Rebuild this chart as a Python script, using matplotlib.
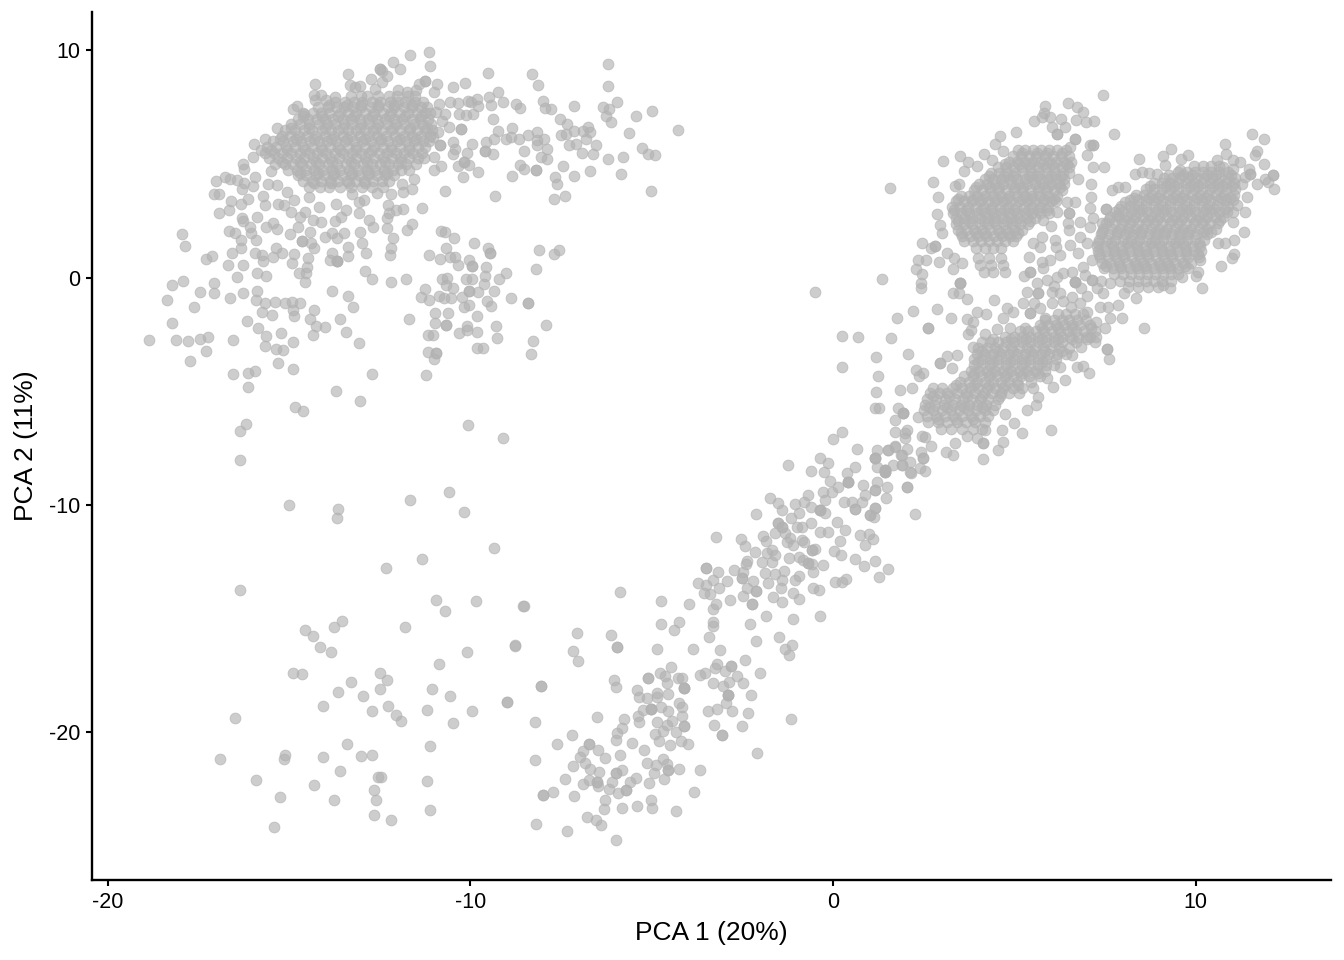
import matplotlib
matplotlib.use("Agg")
import matplotlib.pyplot as plt
import numpy as np

# values, PCA 1 / PCA 2
lower_left = [(-15.0,-10.0),(-13.65,-10.2),(-13.68,-10.6),(-11.66,-9.8),(-10.6,-9.45),(-10.17,-10.3),(-9.35,-11.9),(-11.33,-12.4),
(-12.32,-12.8),(-16.35,-13.75),(-10.95,-14.2),(-10.7,-14.7),(-9.84,-14.25),(-8.55,-14.45),(-13.55,-15.1),(-13.75,-15.4),(-14.55,-15.5),
(-14.35,-15.8),(-14.15,-16.25),(-13.85,-16.5),(-11.8,-15.4),(-10.1,-16.5),(-8.77,-16.2),(-10.87,-17.0),(-14.9,-17.4),(-14.65,-17.45),
(-12.5,-17.4),(-12.3,-17.7),(-13.3,-17.8),(-12.5,-18.1),(-11.05,-18.1),(-13.65,-18.25),(-12.95,-18.4),(-10.55,-18.4),(-14.05,-18.85),
(-12.7,-19.1),(-12.27,-18.85),(-12.05,-19.25),(-11.9,-19.5),(-11.2,-19.05),(-9.95,-19.1),(-10.48,-19.6),(-9.0,-18.7),(-8.05,-18.0),
(-16.5,-19.4),(-16.9,-21.2),(-15.1,-21.0),(-15.15,-21.2),(-14.05,-21.1),(-13.4,-20.55),(-13.0,-21.05),(-12.7,-21.0),(-11.1,-20.6),
(-15.9,-22.1),(-14.3,-22.35),(-13.6,-21.7),(-12.55,-22.0),(-12.45,-22.0),(-11.2,-22.15),(-12.65,-22.55),(-15.25,-22.85),(-13.75,-23.0),
(-12.6,-23.0),(-12.65,-23.65),(-11.1,-23.45),(-12.2,-23.9),(-15.4,-24.2),
(-16.18,-6.45),(-16.35,-6.75),(-16.35,-8.03),(-10.06,-6.5),(-9.1,-7.07)]

lower_band = [(-8.2,-24.07),(-7.34,-24.35),(-5.99,-24.76),(-6.77,-23.74),(-6.53,-23.88),(-6.4,-24.1),(-8.0,-22.79),(-8.0,-22.79),(-7.73,-22.66),
(-7.15,-22.82),(-8.22,-21.23),(-7.62,-20.55),(-7.2,-20.12),(-8.22,-19.58),(-7.38,-22.09),(-6.9,-22.29),(-7.18,-21.5),(-6.97,-21.12),(-6.9,-20.82),
(-6.74,-20.53),(-6.74,-20.53),(-6.49,-20.79),(-6.29,-21.13),(-6.84,-21.35),(-6.7,-21.63),(-6.44,-21.78),(-6.72,-22.12),(-6.51,-22.19),(-6.51,-22.19),
(-6.49,-22.38),(-6.17,-22.53),(-6.08,-22.19),(-5.99,-21.82),(-5.99,-21.82),(-5.81,-21.67),(-5.86,-21.01),(-5.92,-22.7),(-5.72,-22.58),(-5.72,-22.58),
(-5.61,-22.19),(-5.43,-22.03),(-6.29,-23.02),(-6.31,-23.41),(-5.81,-23.36),(-5.4,-23.27),(-5.03,-23.02),(-4.99,-23.35),(-4.32,-23.49),(-5.08,-22.23),
(-4.93,-21.82),(-5.14,-21.38),(-5.21,-20.79),(-4.88,-21.47),(-4.68,-21.2),(-4.58,-21.43),(-4.54,-21.67),(-4.54,-21.67),(-4.65,-22.09),(-4.25,-21.62),
(-3.68,-21.67),(-3.84,-22.64),(-5.53,-20.47),(-5.98,-20.37),(-5.96,-20.03),(-5.83,-19.81),(-5.77,-19.42),(-6.51,-19.33),(-5.35,-19.56),(-5.37,-19.28),
(-5.23,-19.03),(-5.03,-18.98),(-5.03,-18.98),(-5.03,-18.98),(-5.36,-18.48),(-5.4,-18.15),(-5.14,-18.53),(-4.86,-18.3),(-4.84,-18.48),(-4.56,-18.34),
(-4.86,-19.55),(-4.74,-18.92),(-4.54,-19.06),(-4.45,-19.5),(-4.57,-19.69),(-4.7,-19.94),(-4.34,-20.02),(-4.91,-20.1),(-4.81,-20.38),(-4.49,-20.56),
(-4.19,-20.41),(-3.99,-20.54),(-4.11,-19.74),(-4.11,-19.74),(-4.17,-19.28),(-4.17,-18.89),(-4.25,-18.74),(-5.09,-17.64),(-5.09,-17.64),(-4.77,-17.39),
(-4.63,-17.52),(-4.46,-17.16),(-4.59,-17.86),(-4.28,-17.63),(-4.16,-17.64),(-4.11,-18.08),(-4.11,-18.08),(-4.11,-18.08),(-6.05,-17.7),(-5.98,-18.02),
(-8.04,-17.99),(-9.0,-18.67),(-7.16,-16.44),(-7.04,-16.89),(-7.06,-15.64),(-6.11,-15.75),(-5.96,-16.25),(-5.96,-16.25),(-8.77,-16.17),(-8.53,-14.46),
(-5.86,-13.84),(-4.85,-16.33),(-3.87,-16.35),(-3.11,-16.38),(-4.73,-14.25),(-4.73,-15.25),(-4.39,-15.53),(-4.24,-15.15),(-3.96,-14.35),(-3.42,-15.81),
(-3.3,-15.32),(-3.3,-15.15),(-3.3,-14.59),(-3.23,-14.37),(-3.57,-13.9),(-3.39,-13.93),(-3.71,-13.46),(-3.51,-13.53),(-3.5,-12.78),(-3.5,-12.78),
(-3.17,-12.95),(-3.3,-13.31),(-3.13,-13.65),(-2.91,-13.37),(-3.22,-11.42),(-2.83,-14.19),(-2.74,-12.89),(-2.55,-11.51),(-2.42,-11.82),(-2.12,-10.41),
(-1.24,-8.24),(-2.29,-15.23),(-2.13,-15.98),(-2.44,-16.83),(-2.82,-17.08),(-2.82,-17.08),(-3.19,-17.02),(-3.25,-17.17),(-3.53,-17.42),(-3.67,-17.51),
(-2.98,-17.33),(-2.65,-17.52),(-2.88,-17.82),(-2.49,-17.85),(-3.32,-17.85),(-3.04,-17.99),(-2.01,-17.39),(-2.89,-18.37),(-2.89,-18.37),(-2.89,-18.37),
(-2.27,-18.37),(-2.95,-18.74),(-3.46,-19.08),(-3.2,-18.98),(-2.78,-19.06),(-2.34,-19.17),(-2.52,-19.72),(-3.29,-19.71),(-3.06,-20.12),(-3.06,-20.12),
(-1.15,-19.42),(-2.09,-20.93),(-1.49,-15.84),(-1.14,-16.19),(-1.33,-16.36),(-1.22,-16.6)]

middle_band = [(-1.84,-14.9),(-1.09,-15.04),(-0.37,-14.9),(-2.22,-14.35),(-2.22,-14.35),(-2.48,-14.0),(-2.12,-13.78),(-2.12,-13.78),(-2.38,-13.68),
(-2.52,-13.24),(-2.52,-13.24),(-2.48,-12.95),(-2.41,-12.61),(-2.36,-12.46),(-2.21,-13.36),(-1.87,-13.02),(-1.79,-13.46),(-1.66,-14.08),(-1.4,-14.3),
(-1.43,-13.65),(-1.41,-13.31),(-1.35,-12.9),(-1.6,-13.05),(-1.11,-13.88),(-0.93,-14.16),(-1.05,-13.31),(-0.94,-13.14),(-0.56,-13.68),(-0.38,-13.77),
(0.06,-13.39),(0.24,-13.41),(0.35,-13.27),(-0.54,-12.95),(-0.68,-12.58),(-0.68,-12.58),(-0.57,-12.61),(-0.28,-12.64),(0.62,-12.4),(0.85,-12.71),
(1.15,-12.48),(1.28,-13.19),(1.52,-12.84),(0.21,-12.23),(0.04,-12.02),(0.19,-11.6),(0.32,-11.13),(-0.59,-12.01),(-0.59,-12.01),(-0.49,-11.93),
(0.75,-11.32),(0.98,-11.29),(1.11,-11.52),(0.87,-11.76),(-1.83,-12.14),(-1.69,-11.99),(-1.6,-12.21),(-1.69,-12.5),(-1.97,-12.5),(-2.15,-12.07),
(-1.92,-11.38),(-1.85,-11.58),(-1.6,-11.26),(-1.74,-9.7),(-1.51,-9.94),(-1.41,-10.23),(-1.51,-10.82),(-1.51,-10.82),(-1.41,-10.99),(-1.41,-10.99),
(-1.32,-11.26),(-1.16,-10.6),(-1.28,-11.62),(-1.09,-11.77),(-1.18,-11.48),(-0.86,-11.55),(-0.86,-10.99),(-1.0,-10.99),(-1.2,-12.36),(-0.95,-12.29),
(-0.83,-12.45),(-0.81,-11.65),(-1.06,-9.97),(-0.93,-10.38),(-0.8,-9.86),(-0.69,-9.59),(-0.61,-8.53),(-0.61,-10.08),(-0.61,-10.82),(-0.36,-7.93),
(-0.25,-8.56),(-0.13,-8.18),(-0.08,-8.95),(-0.36,-10.23),(-0.36,-10.23),(-0.36,-10.23),(-0.22,-10.38),(-0.28,-9.42),(-0.02,-9.44),(-0.22,-9.79),
(-0.36,-11.18),(-0.13,-11.18),(0.1,-10.74),(0.15,-9.2),(0.29,-9.86),(0.42,-8.98),(0.42,-8.98),(0.42,-8.98),(0.38,-8.62),(0.61,-8.32),(0.67,-7.53),
(0.01,-7.11),(0.24,-6.78),(0.52,-9.86),(0.61,-10.2),(0.61,-10.2),(0.79,-9.86),(0.89,-9.57),(0.84,-9.13),(1.16,-9.35),(1.16,-9.35),(1.21,-8.98),
(1.48,-9.2),(1.46,-9.69),(1.16,-10.16),(1.16,-10.16),(1.02,-10.45),(1.02,-10.45),(1.13,-10.55),(1.16,-7.96),(1.16,-7.96),(1.21,-8.32),(1.44,-8.54),
(1.44,-8.54),(1.44,-8.54),(1.53,-7.59),(1.71,-7.41),(1.9,-7.81),(1.9,-8.25),(2.03,-9.2),(2.03,-9.2),(2.26,-10.41),(2.12,-8.54),(1.99,-6.86),
(-0.5,-0.65),(0.25,-2.57),(0.69,-2.6),(0.25,-3.94),(1.16,-5.74),(1.19,-5.04)]

upper_left_fringe = [(-18.87,-2.75),(-18.11,-2.75),(-17.77,-2.81),(-17.46,-2.71),(-17.24,-2.62),(-17.3,-3.22),(-17.73,-3.66),(-18.22,-2.01),(-17.61,-1.29),
(-18.35,-0.98),(-18.23,-0.33),(-17.91,-0.17),(-17.45,-0.64),(-17.07,-0.67),(-17.08,-0.26),(-17.94,1.93),(-17.86,1.4),(-17.3,0.83),(-17.12,0.97),
(-16.53,-2.77),(-16.17,-1.93),(-16.54,-4.24),(-16.13,-4.18),(-15.93,-4.12),(-16.13,-4.81),(-14.82,-5.69),(-14.6,-5.86),(-13.7,-4.98),(-13.05,-5.44),
(-12.72,-4.24),(-11.23,-4.27),(-15.3,-3.75),(-14.89,-4.02),(-15.66,-3.02),(-15.36,-3.14),(-15.17,-3.17),(-14.89,-2.84),(-15.62,-2.56),(-15.21,-2.45),
(-15.85,-2.23),(-16.63,-0.89),(-16.27,-0.7),(-15.91,-1.0),(-15.88,-0.57),(-15.65,-1.14),(-15.39,-1.08),(-15.12,-1.14),(-14.92,-1.07),(-14.69,-1.14),
(-14.9,-1.43),(-14.85,-1.7),(-15.73,-1.51),(-15.46,-1.67),(-14.32,-1.45),(-14.43,-1.83),(-14.25,-2.14),(-14.01,-2.17),(-14.33,-2.53),(-13.58,-1.83),
(-13.42,-2.4),(-13.08,-2.87),(-13.23,-1.29),(-13.36,-0.79),(-13.82,-0.58),(-11.69,-1.83),(-12.9,0.28),(-12.71,-0.05),(-12.19,-0.19),(-11.77,-0.05),
(-16.43,0.03),(-15.87,0.22),(-15.62,0.06),(-16.67,0.55),(-16.27,0.56),(-16.57,1.06),(-16.33,1.28),(-15.93,1.09),(-15.74,0.99),(-15.72,0.74),(-15.43,0.91),
(-15.36,1.32),(-15.19,1.06),(-14.92,0.66),(-14.85,1.02),(-14.48,0.84),(-14.5,0.47),(-14.54,0.18),(-14.73,0.21),(-14.55,-0.19),(-14.31,1.28),(-14.64,1.6),
(-14.64,1.6),(-14.38,1.5),(-14.41,2.01),(-14.98,1.91),(-15.34,2.12),(-15.64,2.23),(-15.44,2.38),(-15.9,1.65),(-16.33,1.65),(-16.5,1.94),(-16.65,2.07),
(-16.04,1.94),(-16.08,2.23),(-16.28,2.5),(-16.3,2.6),(-15.89,2.67),(-16.94,2.84),(-16.65,2.97),(-16.59,3.36),(-16.33,3.26),(-16.13,3.48),(-15.66,3.2),
(-15.71,3.58),(-15.3,3.26),(-15.15,3.19),(-17.06,3.7),(-16.92,3.67),(-17.01,4.23),(-16.77,4.42),(-16.63,4.33),(-16.42,4.29),(-16.3,3.92),(-16.23,4.17),
(-16.28,5.02),(-16.23,4.8),(-15.98,5.31),(-15.93,4.43),(-15.98,4.02),(-15.59,4.14),(-15.49,4.7),(-15.34,4.07),(-15.05,3.77),(-14.85,3.41),(-14.94,2.89),
(-14.7,2.67),(-14.56,2.89),(-14.35,2.53),(-14.11,2.45),(-14.75,2.23),(-14.01,1.79),(-13.82,1.94),(-13.67,1.72),(-13.48,1.98),(-13.36,1.35),(-12.98,1.5),
(-13.03,2.01),(-13.82,1.09),(-12.88,1.06),(-13.88,0.77),(-13.67,0.74),(-13.67,0.74),(-13.67,0.74),(-13.37,0.94),(-12.21,0.99),(-12.19,1.28),(-12.14,1.76),
(-12.31,2.16),(-12.31,2.6),(-12.24,2.82),(-12.27,3.19),(-12.04,2.97),(-11.85,3.01),(-11.32,3.08),(-11.74,2.09),(-11.62,2.35),(-12.68,2.23),(-12.78,2.53),
(-13.08,2.85),(-13.42,2.97),(-13.57,2.67),(-13.74,2.5),(-13.71,3.26),(-13.08,3.33),(-12.93,3.41),(-13.27,3.7),(-14.16,3.11),(-14.45,3.55),(-11.55,4.36),
(-11.89,4.1),(-11.85,3.77),(-11.62,3.92),(-10.71,3.79),(-9.33,3.6),(-12.19,3.7),(-12.57,3.73),(-15.76,5.6),(-15.65,6.1),(-15.97,5.9),(-15.33,6.6),(-14.9,7.4),
(-14.79,7.55),(-14.58,7.2)]

upper_arc = [(-14.28,8.54),(-13.36,8.98),(-12.14,9.5),(-11.65,9.78),(-11.14,9.91),(-11.1,9.32),(-11.94,9.16),(-12.49,9.2),(-12.49,9.2),(-12.44,9.1),(-12.29,8.87),
(-12.74,8.76),(-12.44,8.62),(-13.33,8.47),(-13.18,8.4),(-13.03,8.44),(-12.63,8.32),(-9.52,9.0),(-10.15,8.57),(-10.47,8.4),(-11.26,8.65),(-11.26,8.65),(-10.93,8.54),
(-11.41,8.54),(-11.01,8.18),(-11.5,8.25),(-11.75,8.18),(-12.0,8.25),(-14.31,8.03),(-14.11,8.03),(-14.28,7.81),(-13.97,7.81),(-13.72,7.96),(-8.29,8.95),(-8.14,8.47),
(-6.2,9.39),(-6.21,8.42),(-9.24,8.18),(-9.48,7.96),(-9.82,7.88),(-10.07,7.78),(-10.34,7.69),(-10.56,7.74),(-9.11,7.71),(-9.44,7.59),(-9.78,7.54),(-9.97,7.74),
(-8.74,7.62),(-8.64,7.47),(-8.0,7.79),(-7.94,7.46),(-7.78,7.43),(-7.15,7.54),(-6.35,7.53),(-6.18,7.44),(-5.96,7.71),(-6.27,7.12),(-6.12,6.86),(-5.44,7.1),(-4.98,7.31),
(-4.28,6.49),(-5.63,6.37),(-7.52,6.96),(-7.34,6.74),(-7.15,6.46),(-7.49,6.28),(-7.37,6.31),(-6.9,6.46),(-6.76,6.64),(-6.69,6.42),(-6.8,6.12),(-7.27,5.84),(-7.09,5.87),
(-6.54,5.83),(-6.91,5.49),(-6.63,5.46),(-6.19,5.23),(-5.79,5.29),(-5.27,5.71),(-5.1,5.46),(-4.9,5.4),(-5.84,4.57),(-6.7,4.68),(-7.15,4.49),(-7.44,4.92),(-7.67,4.41),
(-7.62,4.14),(-7.68,3.48),(-7.39,3.57),(-5.02,3.82),(-8.17,6.05),(-8.15,6.42),(-7.96,6.11),(-8.4,6.27),(-8.67,6.09),(-8.84,6.58),(-8.87,6.17),(-9.02,6.08),(-9.24,6.46),
(-9.36,6.12),(-9.58,5.97),(-9.38,7.0),(-8.15,5.83),(-7.88,5.64),(-8.05,5.31),(-7.89,5.21),(-8.53,5.58),(-9.38,5.46),(-9.6,5.58),(-9.6,5.58),(-8.64,4.96),(-8.51,4.79),
(-8.2,4.73),(-8.2,4.73),(-8.85,4.48),(-9.95,5.9),(-10.08,5.49),(-10.27,6.53),(-10.27,6.53),(-10.59,6.64),(-10.84,5.83),(-10.84,5.83),(-10.47,5.98),(-10.42,5.68),(-10.47,5.46),
(-10.34,4.92),(-10.18,5.09),(-10.18,5.09),(-10.03,4.95),(-10.2,4.43),(-9.8,4.63),(-10.81,4.92),(-11.01,4.73),(-10.71,7.22),(-10.32,7.19),(-10.12,7.15),(-9.93,7.19),
(-10.86,7.66),(-10.94,7.3),(-10.78,6.9),(-10.88,6.4),(-11.04,6.2),(-10.99,5.3)]

center_group = [(-10.81,2.03),(-10.71,2.0),(-10.45,1.74),(-9.9,1.53),(-9.51,1.32),(-9.46,1.09),(-9.46,1.09),(-10.68,1.3),(-11.13,1.0),(-10.83,0.83),(-10.56,0.91),(-10.42,0.91),
(-10.35,0.55),(-10.03,0.77),(-9.95,0.5),(-9.95,0.5),(-9.58,0.47),(-9.6,0.06),(-9.61,-0.29),(-9.01,0.19),(-9.21,-0.08),(-9.35,-0.58),(-10.12,-0.07),(-9.95,-0.07),(-10.77,-0.08),
(-10.65,-0.04),(-10.67,-0.33),(-10.47,-0.45),(-10.03,-0.58),(-10.03,-0.58),(-11.24,-0.52),(-11.35,-0.86),(-11.13,-0.99),(-10.86,-0.82),(-10.73,-0.92),(-10.52,-0.88),(-10.22,-0.85),
(-9.78,-0.63),(-9.55,-1.05),(-9.44,-1.26),(-8.88,-0.91),(-8.42,-1.14),(-8.42,-1.14),(-10.03,-1.21),(-10.18,-1.29),(-10.98,-1.57),(-10.62,-1.55),(-9.82,-1.7),(-10.98,-1.98),(-10.67,-2.09),
(-10.67,-2.09),(-10.08,-2.14),(-10.08,-2.31),(-10.32,-2.42),(-9.82,-2.39),(-9.29,-2.15),(-9.27,-2.67),(-9.81,-3.09),(-9.65,-3.09),(-11.16,-2.52),(-11.02,-2.55),(-11.16,-3.27),(-10.94,-3.31),
(-10.94,-3.31),(-11.01,-3.6),(-8.26,-2.8),(-8.33,-3.36),(-7.92,-2.09),(-8.2,0.36),(-8.11,1.22),(-7.68,1.03),(-7.56,1.21)]

right_fringe = [(7.44,8.04),(6.48,7.69),(5.85,7.56),(5.82,7.25),(6.74,7.49),(6.9,7.3),(5.54,6.9),(5.75,7.05),(5.98,7.05),(6.28,7.0),(6.69,6.93),(6.98,6.86),(7.2,6.9),(7.76,6.3),(6.03,6.61),
(6.4,6.64),(5.04,6.4),(4.6,6.21),(4.47,5.87),(4.7,5.59),(4.16,5.43),(4.39,5.17),(3.5,5.37),(3.03,5.15),(3.73,5.08),(3.96,4.9),(3.61,4.7),(1.58,3.94),(2.76,4.22),(2.89,3.53),(2.87,2.79),
(3.36,4.04),(3.46,4.14),(2.95,2.32),(3.01,1.94),(2.44,1.5),(2.81,1.4),(2.81,1.4),(2.69,1.28),(3.15,1.1),(2.93,0.69),(2.56,0.77),(2.33,0.77),(2.28,0.37),(2.44,0.15),(2.43,-0.26),(2.43,-0.48),
(1.36,-0.07),(3.32,0.37),(3.55,0.62),(3.34,0.84),(3.32,-0.67),(3.5,-0.26),(3.5,-0.26),(3.5,-0.26),(3.48,-0.7),(3.7,-0.96),(4.44,-0.99),(2.86,-1.39),(2.21,-1.48),(1.77,-1.77),(3.24,-1.79),
(3.69,-1.83),(3.96,-1.51),(4.23,-1.59),(3.87,-1.95),(2.61,-2.24),(2.61,-2.24),(3.8,-2.31),(3.73,-2.49),(1.59,-2.68),(2.07,-3.35),(1.19,-3.5),(1.25,-4.34),(2.95,-3.74),(2.95,-3.74),(3.15,-3.46),
(3.41,-3.41),(3.29,-4.0),(2.28,-4.05),(2.49,-4.22),(2.38,-4.34),(1.84,-4.93),(2.19,-4.88),(1.26,-5.76),(1.94,-5.98),(1.94,-5.98),(1.94,-5.98),(1.8,-5.76),(2.35,-6.13),(1.71,-6.27),(1.71,-6.79),
(2.03,-6.71),(1.99,-7.08),(2.44,-6.98),(2.54,-7.0),(1.53,-7.6),(1.71,-7.45),(2.03,-7.55),(2.7,-7.42),(2.42,-7.67),(2.49,-7.93),(2.49,-7.93),(1.87,-7.82),(2.12,-8.11),(1.2,-7.6),(1.16,-7.96),
(1.43,-8.48),(1.43,-8.48),(1.43,-8.48),(1.66,-8.26),(1.89,-8.26),(2.4,-8.4),(2.54,-8.5),(2.14,-8.59),(3.12,-7.67),(3.3,-7.82),(3.36,-7.3),(3.69,-6.98),(3.98,-7.08),(4.14,-7.3),(4.14,-7.3),
(4.56,-7.6),(4.7,-7.23),(4.14,-7.98),(4.19,-6.71),(4.65,-6.69),(5.0,-6.42),(5.22,-6.83),(6.01,-6.71),(4.75,-6.01),(5.36,-5.83),(5.59,-5.59),(5.66,-5.25),(5.52,-4.88),(6.06,-4.81),(6.4,-4.51),
(5.89,-4.44),(6.26,-3.93),(6.72,-3.93),(6.9,-3.9),(7.07,-4.22),(6.58,-3.41),(6.85,-3.05),(7.55,-3.16),(7.55,-3.16),(7.62,-3.58),(7.22,-2.83),(7.09,-2.61),(7.5,-2.21),(8.57,-2.21),(7.96,-1.77),
(7.64,-1.8),(7.87,-1.21),(7.36,-1.29),(6.99,-1.51),(7.24,-1.95),(7.59,-1.29),(10.17,-0.44),(8.35,-0.92),(8.02,-0.7),(9.29,-0.48),(9.11,-0.33),(9.61,0.03),(10.01,0.08),(10.07,0.25),(10.12,0.77),
(10.7,0.5),(11.01,0.84),(11.06,1.03),(11.06,1.65),(10.81,1.5),(11.34,2.0),(10.62,1.5),(11.04,2.45),(11.36,2.9),(11.04,2.9),(11.13,3.19),(11.41,3.55),(11.27,4.14),(11.36,4.43),(11.5,4.58),(11.5,4.58),
(11.47,4.8),(11.68,4.14),(11.91,4.36),(12.14,4.5),(12.14,4.5),(12.16,3.92),(12.0,4.22),(11.87,5.02),(11.89,6.09),(11.56,6.34),(11.68,5.58),(11.64,5.39),(10.81,5.9),(10.83,5.43),(10.58,5.17),(11.04,5.17),
(11.22,5.1),(10.76,4.85),(11.04,4.8),(9.8,5.39),(9.59,5.21),(9.31,5.68),(9.09,5.36),(8.44,5.24),(9.15,4.95),(9.57,4.73),(8.33,4.55),(8.51,4.66),(8.72,4.61),(8.92,4.58),(8.05,3.99),(7.87,3.97),
(7.68,3.85),(8.05,3.33),(7.52,3.01),(7.52,3.01),(7.82,2.75),(7.1,4.11),(7.1,3.53),(7.09,3.04),(6.76,4.36),(7.18,4.85),(7.47,4.85),(7.18,5.83),(7.18,5.83),(7.0,5.39),(7.09,5.83),(6.67,6.12),(6.67,6.12),
(6.17,6.34),(6.17,6.34),(6.53,5.76),(6.67,3.33),(6.44,3.33),(6.5,2.82),(6.5,2.82),(6.48,2.38),(6.52,2.09),(6.81,2.45),(7.18,2.6),(7.41,2.38),(7.09,2.23),(6.81,1.79),(6.53,1.43),(6.76,1.06),(6.9,0.47),
(7.0,1.5),(7.13,0.77),(7.13,-0.11),(7.13,-0.11),(6.67,-0.19),(6.67,-0.19),(6.67,-0.19),(6.35,0.18),(6.58,0.25),(6.01,2.28),(6.17,2.9),(5.8,2.53),(5.77,1.79),(5.52,1.5),(5.71,1.35),(5.39,0.91),(6.12,1.65),
(6.15,1.35),(6.26,0.99),(5.75,0.69),(5.98,0.77),(5.8,0.4),(5.43,0.25),(5.43,0.25),(5.27,0.08),(5.62,-0.26),(6.17,0.03),(5.34,-0.63),(5.66,-0.7),(5.66,-0.7),(6.03,-0.63),(6.26,-0.7),(6.58,-0.85),(7.27,-0.48),
(7.45,-0.7),(7.64,-0.26),(6.81,-1.14),(6.03,-1.14),(5.25,-1.14),(5.43,-1.58),(5.43,-1.58),(4.79,-1.36),(4.7,-1.8),(4.97,-1.51),(5.85,-1.76),(4.88,-2.24),(4.51,-2.28),(4.19,-2.49),(3.87,-3.05),
(5.9,-0.1),(6.1,-0.35),(5.55,-1.1),(5.7,-1.35),(6.35,-1.05),(6.55,-1.3),(7.0,-0.8),(6.85,-0.45),(7.4,-0.15),(6.95,0.1)]

# dense cores: one row per PCA 2 level, PCA 1 positions along it
upper_left_core = [
(8.0,[-13.3,-13.02,-12.85,-12.55,-12.25,-12.02,-11.72,-11.52]),
(7.75,[-13.72,-13.45,-13.2,-12.98,-12.7,-12.48,-12.22,-11.98,-11.8,-11.52,-11.3]),
(7.5,[-14.2,-13.92,-13.7,-13.48,-13.24,-13.0,-12.75,-12.55,-12.28,-12.1,-11.82,-11.6,-11.36,-11.2]),
(7.25,[-14.6,-14.35,-14.12,-13.9,-13.6,-13.38,-13.15,-12.9,-12.66,-12.42,-12.18,-11.96,-11.72,-11.48,-11.26,-11.1]),
(7.0,[-14.75,-14.48,-14.24,-14.0,-13.78,-13.52,-13.3,-13.05,-12.82,-12.58,-12.34,-12.1,-11.88,-11.62,-11.4,-11.16]),
(6.75,[-14.95,-14.7,-14.46,-14.18,-13.96,-13.72,-13.48,-13.25,-13.0,-12.78,-12.54,-12.3,-12.04,-11.82,-11.56,-11.32,-11.08]),
(6.5,[-15.1,-14.84,-14.58,-14.36,-14.1,-13.85,-13.64,-13.38,-13.15,-12.9,-12.67,-12.43,-12.2,-11.95,-11.7,-11.46,-11.24,-11.06]),
(6.25,[-15.2,-14.96,-14.72,-14.5,-14.25,-14.0,-13.76,-13.5,-13.28,-13.04,-12.8,-12.56,-12.32,-12.08,-11.84,-11.6,-11.36,-11.1]),
(6.0,[-15.45,-15.16,-14.9,-14.66,-14.42,-14.18,-13.95,-13.7,-13.46,-13.22,-12.98,-12.74,-12.5,-12.28,-12.02,-11.78,-11.55,-11.3,-11.15]),
(5.75,[-15.6,-15.35,-15.08,-14.84,-14.6,-14.36,-14.12,-13.88,-13.64,-13.38,-13.14,-12.9,-12.66,-12.42,-12.18,-11.95,-11.68,-11.45,-11.25]),
(5.5,[-15.65,-15.42,-15.18,-14.94,-14.7,-14.46,-14.22,-13.98,-13.74,-13.5,-13.26,-13.02,-12.78,-12.52,-12.3,-12.04,-11.82,-11.58,-11.34]),
(5.25,[-15.55,-15.3,-15.05,-14.8,-14.58,-14.34,-14.1,-13.86,-13.62,-13.38,-13.14,-12.9,-12.66,-12.42,-12.16,-11.94,-11.7,-11.45,-11.27]),
(5.0,[-15.38,-15.12,-14.88,-14.64,-14.4,-14.16,-13.92,-13.68,-13.44,-13.2,-12.96,-12.72,-12.48,-12.24,-12.0,-11.76,-11.5]),
(4.75,[-15.02,-14.78,-14.54,-14.3,-14.06,-13.82,-13.58,-13.34,-13.1,-12.86,-12.62,-12.38,-12.14,-11.9,-11.7]),
(4.5,[-14.75,-14.52,-14.26,-14.02,-13.78,-13.54,-13.3,-13.06,-12.82,-12.58,-12.34,-12.1]),
(4.25,[-14.6,-14.36,-14.12,-13.88,-13.64,-13.4,-13.16,-12.92,-12.68,-12.44,-12.24]),
(4.0,[-14.45,-14.15,-13.9,-13.6,-13.3,-12.98,-12.72,-12.4]),
(7.6,[-13.9,-13.4,-13.0,-12.55,-12.1,-11.6]),
(7.1,[-14.6,-14.1,-13.65,-13.2,-12.7,-12.25,-11.8,-11.35]),
(6.6,[-14.95,-14.45,-14.0,-13.5,-13.05,-12.6,-12.12,-11.65,-11.2]),
(6.1,[-15.25,-14.8,-14.3,-13.85,-13.4,-12.9,-12.45,-11.95,-11.5]),
(5.6,[-15.5,-15.05,-14.55,-14.1,-13.6,-13.15,-12.7,-12.2,-11.7]),
(5.1,[-15.2,-14.7,-14.25,-13.8,-13.3,-12.85,-12.35,-11.9]),
(4.6,[-14.7,-14.2,-13.75,-13.25,-12.8,-12.3]),
(4.15,[-14.3,-13.85,-13.35,-12.9]),
]

upper_right_core = [
(5.6,[5.1,5.3,5.52,5.74,5.96,6.18,6.42]),
(5.35,[4.95,5.18,5.4,5.6,5.84,6.06,6.28,6.5]),
(5.1,[4.85,5.08,5.3,5.5,5.72,5.95,6.16,6.38,6.55]),
(4.85,[4.55,4.78,5.0,5.22,5.44,5.66,5.88,6.1,6.32,6.52]),
(4.6,[4.35,4.58,4.8,5.02,5.24,5.46,5.68,5.9,6.12,6.34,6.5]),
(4.35,[4.18,4.4,4.62,4.84,5.06,5.28,5.5,5.72,5.94,6.16,6.38]),
(4.1,[4.02,4.24,4.46,4.68,4.9,5.12,5.34,5.56,5.78,6.0,6.22,6.38]),
(3.85,[3.88,4.1,4.32,4.54,4.76,4.98,5.2,5.42,5.64,5.86,6.08,6.3]),
(3.6,[3.52,3.74,3.96,4.18,4.4,4.62,4.84,5.06,5.28,5.5,5.72,5.94,6.18]),
(3.35,[3.38,3.6,3.82,4.04,4.26,4.48,4.7,4.92,5.14,5.36,5.58,5.8,6.02,6.14]),
(3.1,[3.28,3.5,3.72,3.94,4.16,4.38,4.6,4.82,5.04,5.26,5.48,5.7,5.92]),
(2.85,[3.3,3.52,3.74,3.96,4.18,4.4,4.62,4.84,5.06,5.28,5.5,5.72,5.95]),
(2.6,[3.38,3.6,3.82,4.04,4.26,4.48,4.7,4.92,5.14,5.36,5.58]),
(2.35,[3.4,3.62,3.84,4.06,4.28,4.5,4.72,4.94,5.16,5.38]),
(2.1,[3.45,3.68,3.9,4.12,4.34,4.56,4.78,5.0,5.22]),
(1.85,[3.55,3.78,4.0,4.22,4.44,4.66,4.88,5.05]),
(1.6,[3.62,3.85,4.08,4.3,4.52,4.74,4.95]),
(1.3,[3.95,4.2,4.4,4.62]),
(0.85,[4.0,4.3,4.62]),
(0.55,[4.05,4.35,4.7]),
(0.25,[4.15,4.4,4.75]),
(5.47,[5.2,5.63,5.9,6.31]),
(4.98,[4.75,5.13,5.41,5.79,6.03,6.44]),
(4.47,[4.3,4.71,4.97,5.39,5.62,6.0,6.28]),
(3.97,[3.95,4.33,4.59,5.01,5.25,5.67,5.93,6.25]),
(3.47,[3.45,3.86,4.12,4.52,4.79,5.2,5.47,5.83,6.08]),
(2.97,[3.33,3.68,4.09,4.35,4.72,5.0,5.37,5.65,5.9]),
(2.47,[3.44,3.75,4.15,4.43,4.8,5.05,5.42]),
(1.97,[3.52,3.94,4.2,4.6,4.85,5.1]),
]

far_right_core = [
(4.9,[9.95,10.2,10.42,10.65]),
(4.65,[9.5,9.75,9.98,10.2,10.42,10.65,10.88]),
(4.4,[9.12,9.35,9.58,9.8,10.02,10.24,10.46,10.68,10.9,11.08]),
(4.15,[8.85,9.08,9.3,9.52,9.74,9.96,10.18,10.4,10.62,10.84,11.06]),
(3.9,[8.62,8.85,9.08,9.3,9.52,9.74,9.96,10.18,10.4,10.62,10.84,11.08]),
(3.65,[8.35,8.58,8.8,9.02,9.24,9.46,9.68,9.9,10.12,10.34,10.56,10.78,11.05]),
(3.4,[8.2,8.42,8.64,8.86,9.08,9.3,9.52,9.74,9.96,10.18,10.4,10.62,10.84,11.02]),
(3.15,[7.95,8.18,8.4,8.62,8.84,9.06,9.28,9.5,9.72,9.94,10.16,10.38,10.6,10.88]),
(2.9,[7.78,8.0,8.22,8.44,8.66,8.88,9.1,9.32,9.54,9.76,9.98,10.2,10.42,10.64,10.85]),
(2.65,[7.65,7.88,8.1,8.32,8.54,8.76,8.98,9.2,9.42,9.64,9.86,10.08,10.3,10.52,10.75]),
(2.4,[7.52,7.75,7.98,8.2,8.42,8.64,8.86,9.08,9.3,9.52,9.74,9.96,10.18,10.4,10.62]),
(2.15,[7.45,7.68,7.9,8.12,8.34,8.56,8.78,9.0,9.22,9.44,9.66,9.88,10.1,10.32,10.55]),
(1.9,[7.38,7.6,7.82,8.04,8.26,8.48,8.7,8.92,9.14,9.36,9.58,9.8,10.02,10.3]),
(1.65,[7.32,7.55,7.78,8.0,8.22,8.44,8.66,8.88,9.1,9.32,9.54,9.76,9.98,10.22]),
(1.4,[7.28,7.5,7.72,7.94,8.16,8.38,8.6,8.82,9.04,9.26,9.48,9.7,9.92,10.12]),
(1.15,[7.3,7.52,7.74,7.96,8.18,8.4,8.62,8.84,9.06,9.28,9.5,9.72,9.94,10.14]),
(0.9,[7.36,7.58,7.8,8.02,8.24,8.46,8.68,8.9,9.12,9.34,9.56,9.78,10.1]),
(0.65,[7.42,7.65,7.88,8.1,8.32,8.54,8.76,8.98,9.2,9.42,9.64,9.88]),
(0.4,[7.48,7.72,7.95,8.18,8.4,8.62,8.84,9.06,9.28,9.5,9.8]),
(0.15,[7.75,8.0,8.22,8.44,8.66,8.88,9.1,9.32,9.5]),
(-0.15,[7.9,8.15,8.4,8.62,8.85,9.08,9.32]),
(-0.4,[8.12,8.4,8.68,8.95]),
(4.52,[9.25,9.66,9.91,10.31,10.55,10.97]),
(4.02,[8.75,9.17,9.41,9.83,10.07,10.49,10.73,11.0]),
(3.52,[8.3,8.71,8.95,9.37,9.62,10.03,10.27,10.7,10.95]),
(3.02,[7.88,8.29,8.53,8.95,9.19,9.61,9.85,10.27,10.5,10.8]),
(2.52,[7.6,8.03,8.27,8.69,8.93,9.35,9.59,10.0,10.24,10.66]),
(2.02,[7.42,7.83,8.15,8.47,8.89,9.13,9.55,9.79,10.21,10.43]),
(1.52,[7.3,7.66,8.1,8.34,8.76,9.0,9.42,9.66,10.08]),
(1.02,[7.33,7.75,8.0,8.42,8.66,9.08,9.32,9.74,10.05]),
(0.52,[7.52,7.92,8.35,8.6,9.02,9.25,9.7]),
]

lower_right_core = [
(-1.6,[6.2,6.42,6.68,6.88]),
(-1.85,[5.85,6.08,6.3,6.52,6.74,6.98]),
(-2.1,[5.7,5.92,6.14,6.36,6.58,6.8,7.08]),
(-2.35,[5.15,5.38,5.6,5.82,6.04,6.26,6.48,6.7,6.92,7.22]),
(-2.6,[4.75,5.0,5.22,5.44,5.66,5.88,6.1,6.32,6.54,6.76,6.98,7.25]),
(-2.85,[4.1,4.34,4.56,4.78,5.0,5.22,5.44,5.66,5.88,6.1,6.32,6.7]),
(-3.1,[4.0,4.24,4.46,4.68,4.9,5.12,5.34,5.56,5.78,6.0,6.22,6.5]),
(-3.35,[3.98,4.2,4.42,4.64,4.86,5.08,5.3,5.52,5.74,5.96,6.18,6.42]),
(-3.6,[3.9,4.12,4.34,4.56,4.78,5.0,5.22,5.44,5.66,5.88,6.15]),
(-3.85,[3.88,4.1,4.32,4.54,4.76,4.98,5.2,5.42,5.64,5.86,6.1]),
(-4.1,[3.8,4.02,4.24,4.46,4.68,4.9,5.12,5.34,5.56,5.85]),
(-4.35,[3.62,3.85,4.08,4.3,4.52,4.74,4.96,5.18,5.4,5.7]),
(-4.6,[3.5,3.75,3.98,4.2,4.42,4.64,4.86,5.08,5.45]),
(-4.85,[2.75,3.0,3.3,3.55,3.78,4.0,4.25,4.48,4.7,4.95,5.2]),
(-5.1,[2.68,2.92,3.15,3.42,3.68,3.92,4.15,4.38,4.62,4.85,5.12]),
(-5.35,[2.6,2.85,3.1,3.35,3.58,3.82,4.05,4.28,4.55]),
(-5.6,[2.55,2.8,3.05,3.3,3.52,3.75,3.98,4.22,4.48]),
(-5.85,[2.5,2.75,3.0,3.25,3.48,3.72,3.95,4.2,4.42]),
(-6.1,[2.6,2.85,3.1,3.32,3.55,3.8,4.05,4.28]),
(-6.35,[2.62,2.9,3.15,3.42,3.68,3.92,4.2]),
(-6.65,[2.98,3.25,3.55,3.85,4.12]),
(-2.22,[5.3,5.75,6.2,6.6,7.1]),
(-2.72,[4.4,4.9,5.33,5.75,6.2,6.6,7.0]),
(-3.22,[4.1,4.55,4.97,5.44,5.85,6.3]),
(-3.72,[4.0,4.42,4.88,5.3,5.77]),
(-4.22,[3.9,4.35,4.8,5.23,5.65]),
(-4.72,[3.4,3.9,4.3,4.75,5.1]),
(-5.22,[2.75,3.2,3.7,4.1,4.6]),
(-5.72,[2.65,3.15,3.62,4.1]),
(-6.22,[2.9,3.4,3.85]),
]

x_ticks = [-20, -10, 0, 10]
y_ticks = [-20, -10, 0, 10]

plt.rcParams["font.family"] = ["Liberation Sans", "DejaVu Sans"]
plt.rcParams["axes.unicode_minus"] = False

xs = []
ys = []
for group in [lower_left, lower_band, middle_band, upper_left_fringe, upper_arc, center_group, right_fringe]:
    for px, py in group:
        xs.append(px)
        ys.append(py)
for core in [upper_left_core, upper_right_core, far_right_core, lower_right_core]:
    for level, row in core:
        for px in row:
            xs.append(px)
            ys.append(level)

fig = plt.figure(figsize=(13.44, 9.6), dpi=100)
ax = fig.add_axes([92 / 1344, 80 / 960, (1331 - 92) / 1344, (880 - 12) / 960])
ax.scatter(np.array(xs), np.array(ys), s=60, color="#b2b2b2", alpha=0.65, linewidths=0.7, clip_on=False)

ax.set_xlim(-20.43, 13.73)
ax.set_ylim(-26.52, 11.69)
ax.set_xticks(x_ticks)
ax.set_yticks(y_ticks)
ax.tick_params(length=4.6, width=1.5, labelsize=15.5, pad=4)
ax.spines["top"].set_visible(False)
ax.spines["right"].set_visible(False)
ax.spines["left"].set_linewidth(1.7)
ax.spines["bottom"].set_linewidth(1.7)
ax.set_xlabel("PCA 1 (20%)", fontsize=19, labelpad=6)
ax.set_ylabel("PCA 2 (11%)", fontsize=19, labelpad=8)

fig.savefig("out.png", dpi=100)
